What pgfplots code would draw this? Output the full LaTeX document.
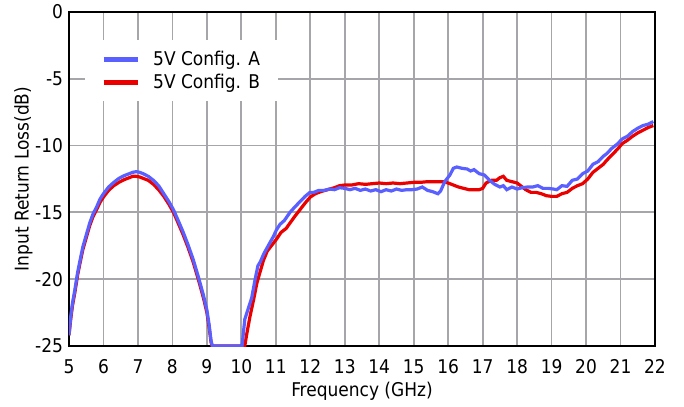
\documentclass[border=0pt]{standalone}
\usepackage{pgfplots}
\pgfplotsset{compat=1.18}
\usepackage{fontspec}
\setmainfont{DejaVu Sans Condensed}
\definecolor{cA}{RGB}{90,95,255}
\definecolor{cB}{RGB}{235,0,0}
\definecolor{gridc}{RGB}{165,165,170}
\pgfplotstableread{
f db
5.00 -24.2
5.05 -22.8
5.10 -21.8
5.17 -20.8
5.25 -19.5
5.32 -18.6
5.40 -17.6
5.50 -16.7
5.60 -15.8
5.70 -15.1
5.80 -14.6
5.90 -14.0
6.00 -13.6
6.15 -13.1
6.30 -12.75
6.45 -12.45
6.60 -12.25
6.75 -12.1
6.85 -12.0
6.95 -11.95
7.05 -12.0
7.15 -12.1
7.30 -12.3
7.45 -12.6
7.60 -13.0
7.75 -13.6
7.90 -14.2
8.03 -14.8
8.15 -15.5
8.30 -16.4
8.45 -17.4
8.60 -18.5
8.75 -19.8
8.90 -21.2
9.00 -22.3
9.07 -23.5
9.12 -24.6
9.16 -25
10.02 -25
10.06 -24.0
10.10 -23.0
10.20 -22.2
10.30 -21.4
10.40 -20.0
10.48 -19.0
10.55 -18.7
10.65 -18.1
10.80 -17.4
10.93 -16.8
11.02 -16.3
11.12 -15.9
11.25 -15.6
11.41 -15.0
11.55 -14.6
11.70 -14.2
11.85 -13.8
11.99 -13.5
12.10 -13.5
12.25 -13.35
12.40 -13.35
12.57 -13.25
12.70 -13.3
12.85 -13.15
13.00 -13.2
13.15 -13.3
13.30 -13.2
13.45 -13.35
13.60 -13.25
13.75 -13.4
13.90 -13.3
14.05 -13.45
14.20 -13.3
14.35 -13.4
14.50 -13.25
14.65 -13.35
14.80 -13.3
14.95 -13.3
15.10 -13.25
15.25 -13.1
15.40 -13.35
15.55 -13.45
15.70 -13.6
15.78 -13.4
15.90 -12.7
16.05 -12.2
16.15 -11.7
16.25 -11.6
16.40 -11.7
16.55 -11.75
16.65 -11.9
16.75 -11.8
16.90 -12.1
17.05 -12.2
17.20 -12.6
17.35 -12.9
17.50 -13.1
17.60 -13.0
17.70 -13.3
17.85 -13.1
18.00 -13.25
18.15 -13.15
18.30 -13.1
18.45 -13.1
18.60 -13.0
18.75 -13.2
18.90 -13.2
19.05 -13.25
19.15 -13.3
19.30 -13.0
19.45 -13.05
19.60 -12.6
19.75 -12.5
19.90 -12.1
20.05 -11.9
20.20 -11.4
20.35 -11.2
20.50 -10.8
20.60 -10.6
20.75 -10.2
20.90 -9.9
21.05 -9.5
21.20 -9.3
21.35 -8.95
21.50 -8.7
21.65 -8.5
21.80 -8.4
21.95 -8.2
}\dataA
\pgfplotstableread{
f db
5.00 -24.2
5.05 -23.0
5.10 -22.0
5.17 -21.0
5.25 -19.7
5.32 -18.8
5.40 -17.8
5.50 -16.9
5.60 -16.0
5.70 -15.3
5.80 -14.8
5.90 -14.25
6.00 -13.85
6.15 -13.35
6.30 -13.0
6.45 -12.75
6.60 -12.55
6.75 -12.4
6.85 -12.3
6.95 -12.3
7.05 -12.35
7.15 -12.45
7.30 -12.6
7.45 -12.9
7.60 -13.3
7.75 -13.8
7.90 -14.4
8.03 -15.0
8.15 -15.7
8.30 -16.6
8.45 -17.6
8.60 -18.7
8.75 -20.0
8.90 -21.4
9.00 -22.5
9.07 -23.7
9.12 -24.7
9.15 -25
10.10 -25
10.15 -24.2
10.25 -22.8
10.35 -21.6
10.45 -20.3
10.55 -19.4
10.64 -18.6
10.75 -17.9
10.90 -17.4
11.02 -17.0
11.15 -16.5
11.30 -16.2
11.41 -15.8
11.55 -15.3
11.70 -14.8
11.85 -14.3
12.00 -13.85
12.15 -13.6
12.30 -13.45
12.50 -13.3
12.70 -13.15
12.85 -13.0
13.00 -12.95
13.20 -12.95
13.40 -12.85
13.60 -12.9
13.80 -12.85
14.00 -12.8
14.20 -12.85
14.40 -12.8
14.60 -12.85
14.80 -12.8
15.00 -12.75
15.20 -12.75
15.40 -12.7
15.60 -12.7
15.85 -12.7
16.00 -12.8
16.15 -12.95
16.30 -13.1
16.45 -13.2
16.60 -13.3
16.75 -13.3
16.90 -13.3
17.00 -13.2
17.10 -12.8
17.25 -12.6
17.40 -12.6
17.50 -12.4
17.60 -12.3
17.70 -12.6
17.85 -12.7
18.00 -12.8
18.10 -13.0
18.25 -13.3
18.40 -13.5
18.55 -13.5
18.70 -13.6
18.85 -13.75
19.00 -13.8
19.15 -13.8
19.30 -13.6
19.45 -13.5
19.60 -13.2
19.75 -13.0
19.90 -12.85
20.05 -12.5
20.20 -12.0
20.35 -11.7
20.50 -11.4
20.60 -11.1
20.75 -10.7
20.90 -10.3
21.05 -9.85
21.20 -9.6
21.35 -9.3
21.50 -9.05
21.65 -8.85
21.80 -8.65
21.95 -8.5
}\dataB
\begin{document}
\begin{tikzpicture}
\begin{axis}[
  scale only axis,
  width=586bp, height=334bp,
  xmin=5, xmax=22, ymin=-25, ymax=0,
  xtick={5,6,...,22}, ytick={-25,-20,...,0},
  grid=major,
  major grid style={gridc, line width=1.8bp},
  major tick length=0pt,
  axis line style={black, line width=2bp},
  tick label style={font=\fontsize{19}{22}\selectfont},
  label style={font=\fontsize{19}{22}\selectfont},
  /pgf/number format/assume math mode=true,
  xlabel={Frequency (GHz)},
  ylabel={Input Return Loss(dB)},
  xlabel style={at={(axis description cs:0.5,-0.0988)}, anchor=north},
  ylabel style={at={(axis description cs:-0.0563,0.5)}, anchor=south},
  xticklabel style={yshift=-10bp},
  yticklabel style={xshift=-2.5bp},
  legend cell align=left,
  legend style={at={(0.0273,0.916)}, anchor=north west, draw=none, fill=white,
    font=\fontsize{19}{22}\selectfont, row sep=3.5bp, inner xsep=16bp, inner ysep=9bp,
    /tikz/column 1/.style={column sep=11bp}},
  legend image code/.code={\draw[#1, line width=5bp] (0bp,0bp) -- (34bp,0bp);},
]
\addlegendimage{cA}
\addlegendentry{5V Config. A}
\addlegendimage{cB}
\addlegendentry{5V Config. B}
\addplot[cB, line width=3.2bp, forget plot] table[x=f, y=db] {\dataB};
\addplot[cA, line width=3.2bp, forget plot] table[x=f, y=db] {\dataA};
\end{axis}
\path (current axis.south west) ++(-69bp,-61bp) rectangle ([xshift=29bp, yshift=12bp]current axis.north east);
\end{tikzpicture}
\end{document}
